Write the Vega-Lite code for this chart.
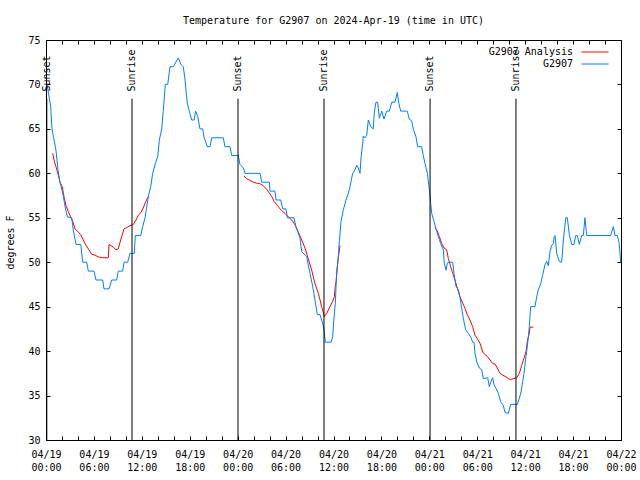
{
  "$schema": "https://vega.github.io/schema/vega-lite/v6.json",
  "width": 575,
  "height": 400,
  "autosize": {"type": "none"},
  "padding": {"left": 46, "top": 40, "right": 19, "bottom": 40},
  "background": "white",
  "title": {"text": "Temperature for G2907 on 2024-Apr-19 (time in UTC)", "fontSize": 10, "font": "DejaVu Sans Mono", "fontWeight": "normal", "color": "black", "offset": 9},
  "config": {
    "font": "DejaVu Sans Mono",
    "view": {"stroke": null},
    "axis": {"grid": false, "domainColor": "black", "tickColor": "black", "labelColor": "black", "titleColor": "black", "labelFontSize": 10, "titleFontSize": 10, "titleFontWeight": "normal", "labelFont": "DejaVu Sans Mono", "titleFont": "DejaVu Sans Mono", "tickSize": -4, "domainWidth": 1, "tickWidth": 1}
  },
  "datasets": {
    "temps": [
      {"series": "G2907 Analysis", "seg": 1, "hour": 0.84, "temp": 62.25},
      {"series": "G2907 Analysis", "seg": 1, "hour": 1.0, "temp": 61.5},
      {"series": "G2907 Analysis", "seg": 1, "hour": 1.25, "temp": 60.75},
      {"series": "G2907 Analysis", "seg": 1, "hour": 1.54, "temp": 59.8},
      {"series": "G2907 Analysis", "seg": 1, "hour": 1.75, "temp": 59},
      {"series": "G2907 Analysis", "seg": 1, "hour": 2.04, "temp": 58.5},
      {"series": "G2907 Analysis", "seg": 1, "hour": 2.25, "temp": 57.4},
      {"series": "G2907 Analysis", "seg": 1, "hour": 2.5, "temp": 56.4},
      {"series": "G2907 Analysis", "seg": 1, "hour": 2.79, "temp": 55.7},
      {"series": "G2907 Analysis", "seg": 1, "hour": 3.09, "temp": 55.1},
      {"series": "G2907 Analysis", "seg": 1, "hour": 3.34, "temp": 54.6},
      {"series": "G2907 Analysis", "seg": 1, "hour": 3.67, "temp": 53.7},
      {"series": "G2907 Analysis", "seg": 1, "hour": 4.04, "temp": 53.4},
      {"series": "G2907 Analysis", "seg": 1, "hour": 4.35, "temp": 53.1},
      {"series": "G2907 Analysis", "seg": 1, "hour": 4.67, "temp": 52.5},
      {"series": "G2907 Analysis", "seg": 1, "hour": 5.01, "temp": 51.9},
      {"series": "G2907 Analysis", "seg": 1, "hour": 5.38, "temp": 51.4},
      {"series": "G2907 Analysis", "seg": 1, "hour": 5.72, "temp": 50.9},
      {"series": "G2907 Analysis", "seg": 1, "hour": 6.14, "temp": 50.8},
      {"series": "G2907 Analysis", "seg": 1, "hour": 6.55, "temp": 50.6},
      {"series": "G2907 Analysis", "seg": 1, "hour": 7.1, "temp": 50.5},
      {"series": "G2907 Analysis", "seg": 1, "hour": 7.8, "temp": 50.5},
      {"series": "G2907 Analysis", "seg": 1, "hour": 7.89, "temp": 52},
      {"series": "G2907 Analysis", "seg": 1, "hour": 8.43, "temp": 51.7},
      {"series": "G2907 Analysis", "seg": 1, "hour": 8.73, "temp": 51.4},
      {"series": "G2907 Analysis", "seg": 1, "hour": 9.05, "temp": 51.5},
      {"series": "G2907 Analysis", "seg": 1, "hour": 9.35, "temp": 52.5},
      {"series": "G2907 Analysis", "seg": 1, "hour": 9.77, "temp": 53.75},
      {"series": "G2907 Analysis", "seg": 1, "hour": 10.1, "temp": 53.9},
      {"series": "G2907 Analysis", "seg": 1, "hour": 10.52, "temp": 54.1},
      {"series": "G2907 Analysis", "seg": 1, "hour": 10.93, "temp": 54.25},
      {"series": "G2907 Analysis", "seg": 1, "hour": 11.27, "temp": 54.75},
      {"series": "G2907 Analysis", "seg": 1, "hour": 11.56, "temp": 55.3},
      {"series": "G2907 Analysis", "seg": 1, "hour": 11.9, "temp": 55.6},
      {"series": "G2907 Analysis", "seg": 1, "hour": 12.18, "temp": 56.1},
      {"series": "G2907 Analysis", "seg": 1, "hour": 12.48, "temp": 56.8},
      {"series": "G2907 Analysis", "seg": 1, "hour": 12.81, "temp": 57.4},
      {"series": "G2907 Analysis", "seg": 2, "hour": 24.79, "temp": 59.7},
      {"series": "G2907 Analysis", "seg": 2, "hour": 25.13, "temp": 59.4},
      {"series": "G2907 Analysis", "seg": 2, "hour": 25.54, "temp": 59.2},
      {"series": "G2907 Analysis", "seg": 2, "hour": 25.96, "temp": 59.0},
      {"series": "G2907 Analysis", "seg": 2, "hour": 26.38, "temp": 58.9},
      {"series": "G2907 Analysis", "seg": 2, "hour": 26.88, "temp": 58.8},
      {"series": "G2907 Analysis", "seg": 2, "hour": 27.21, "temp": 58.6},
      {"series": "G2907 Analysis", "seg": 2, "hour": 27.64, "temp": 58.2},
      {"series": "G2907 Analysis", "seg": 2, "hour": 27.96, "temp": 57.8},
      {"series": "G2907 Analysis", "seg": 2, "hour": 28.26, "temp": 57.4},
      {"series": "G2907 Analysis", "seg": 2, "hour": 28.59, "temp": 56.8},
      {"series": "G2907 Analysis", "seg": 2, "hour": 28.96, "temp": 56.4},
      {"series": "G2907 Analysis", "seg": 2, "hour": 29.3, "temp": 56},
      {"series": "G2907 Analysis", "seg": 2, "hour": 29.64, "temp": 55.7},
      {"series": "G2907 Analysis", "seg": 2, "hour": 29.93, "temp": 55.5},
      {"series": "G2907 Analysis", "seg": 2, "hour": 30.34, "temp": 55.1},
      {"series": "G2907 Analysis", "seg": 2, "hour": 30.77, "temp": 54.75},
      {"series": "G2907 Analysis", "seg": 2, "hour": 31.18, "temp": 54.2},
      {"series": "G2907 Analysis", "seg": 2, "hour": 31.59, "temp": 53.4},
      {"series": "G2907 Analysis", "seg": 2, "hour": 32.02, "temp": 52.5},
      {"series": "G2907 Analysis", "seg": 2, "hour": 32.43, "temp": 51.6},
      {"series": "G2907 Analysis", "seg": 2, "hour": 32.84, "temp": 50.4},
      {"series": "G2907 Analysis", "seg": 2, "hour": 33.27, "temp": 49.1},
      {"series": "G2907 Analysis", "seg": 2, "hour": 33.68, "temp": 47.6},
      {"series": "G2907 Analysis", "seg": 2, "hour": 34.1, "temp": 46.5},
      {"series": "G2907 Analysis", "seg": 2, "hour": 34.22, "temp": 46.1},
      {"series": "G2907 Analysis", "seg": 2, "hour": 34.52, "temp": 45},
      {"series": "G2907 Analysis", "seg": 2, "hour": 34.85, "temp": 43.9},
      {"series": "G2907 Analysis", "seg": 2, "hour": 35.15, "temp": 44.25},
      {"series": "G2907 Analysis", "seg": 2, "hour": 35.56, "temp": 45},
      {"series": "G2907 Analysis", "seg": 2, "hour": 35.9, "temp": 45.6},
      {"series": "G2907 Analysis", "seg": 2, "hour": 36.1, "temp": 46.1},
      {"series": "G2907 Analysis", "seg": 2, "hour": 36.23, "temp": 47.4},
      {"series": "G2907 Analysis", "seg": 2, "hour": 36.31, "temp": 47.75},
      {"series": "G2907 Analysis", "seg": 2, "hour": 36.53, "temp": 49.9},
      {"series": "G2907 Analysis", "seg": 2, "hour": 36.65, "temp": 50.8},
      {"series": "G2907 Analysis", "seg": 2, "hour": 36.81, "temp": 51.9},
      {"series": "G2907 Analysis", "seg": 3, "hour": 48.71, "temp": 53.9},
      {"series": "G2907 Analysis", "seg": 3, "hour": 49.0, "temp": 53.5},
      {"series": "G2907 Analysis", "seg": 3, "hour": 49.25, "temp": 52.9},
      {"series": "G2907 Analysis", "seg": 3, "hour": 49.55, "temp": 52.1},
      {"series": "G2907 Analysis", "seg": 3, "hour": 49.84, "temp": 51.6},
      {"series": "G2907 Analysis", "seg": 3, "hour": 50.17, "temp": 51.4},
      {"series": "G2907 Analysis", "seg": 3, "hour": 50.38, "temp": 50.4},
      {"series": "G2907 Analysis", "seg": 3, "hour": 50.68, "temp": 49.5},
      {"series": "G2907 Analysis", "seg": 3, "hour": 50.93, "temp": 48.75},
      {"series": "G2907 Analysis", "seg": 3, "hour": 51.21, "temp": 48},
      {"series": "G2907 Analysis", "seg": 3, "hour": 51.5, "temp": 47.1},
      {"series": "G2907 Analysis", "seg": 3, "hour": 51.84, "temp": 46.1},
      {"series": "G2907 Analysis", "seg": 3, "hour": 52.18, "temp": 45.4},
      {"series": "G2907 Analysis", "seg": 3, "hour": 52.47, "temp": 44.8},
      {"series": "G2907 Analysis", "seg": 3, "hour": 52.75, "temp": 44.1},
      {"series": "G2907 Analysis", "seg": 3, "hour": 53.09, "temp": 43.5},
      {"series": "G2907 Analysis", "seg": 3, "hour": 53.43, "temp": 42.75},
      {"series": "G2907 Analysis", "seg": 3, "hour": 53.72, "temp": 41.8},
      {"series": "G2907 Analysis", "seg": 3, "hour": 54.01, "temp": 41.4},
      {"series": "G2907 Analysis", "seg": 3, "hour": 54.34, "temp": 40.9},
      {"series": "G2907 Analysis", "seg": 3, "hour": 54.68, "temp": 39.9},
      {"series": "G2907 Analysis", "seg": 3, "hour": 54.97, "temp": 39.6},
      {"series": "G2907 Analysis", "seg": 3, "hour": 55.26, "temp": 39.4},
      {"series": "G2907 Analysis", "seg": 3, "hour": 55.6, "temp": 39},
      {"series": "G2907 Analysis", "seg": 3, "hour": 55.93, "temp": 38.6},
      {"series": "G2907 Analysis", "seg": 3, "hour": 56.22, "temp": 38.55},
      {"series": "G2907 Analysis", "seg": 3, "hour": 56.51, "temp": 38.1},
      {"series": "G2907 Analysis", "seg": 3, "hour": 56.85, "temp": 37.5},
      {"series": "G2907 Analysis", "seg": 3, "hour": 57.19, "temp": 37.3},
      {"series": "G2907 Analysis", "seg": 3, "hour": 57.6, "temp": 37.1},
      {"series": "G2907 Analysis", "seg": 3, "hour": 57.89, "temp": 36.9},
      {"series": "G2907 Analysis", "seg": 3, "hour": 58.19, "temp": 36.8},
      {"series": "G2907 Analysis", "seg": 3, "hour": 58.51, "temp": 36.9},
      {"series": "G2907 Analysis", "seg": 3, "hour": 58.94, "temp": 37},
      {"series": "G2907 Analysis", "seg": 3, "hour": 59.27, "temp": 37.5},
      {"series": "G2907 Analysis", "seg": 3, "hour": 59.57, "temp": 38.4},
      {"series": "G2907 Analysis", "seg": 3, "hour": 59.85, "temp": 39.2},
      {"series": "G2907 Analysis", "seg": 3, "hour": 60.1, "temp": 39.9},
      {"series": "G2907 Analysis", "seg": 3, "hour": 60.27, "temp": 41.1},
      {"series": "G2907 Analysis", "seg": 3, "hour": 60.52, "temp": 42},
      {"series": "G2907 Analysis", "seg": 3, "hour": 60.61, "temp": 42.7},
      {"series": "G2907 Analysis", "seg": 3, "hour": 61.02, "temp": 42.7},
      {"series": "G2907", "seg": 0, "hour": 0.13, "temp": 70},
      {"series": "G2907", "seg": 0, "hour": 0.59, "temp": 67.5},
      {"series": "G2907", "seg": 0, "hour": 0.75, "temp": 65},
      {"series": "G2907", "seg": 0, "hour": 1.25, "temp": 62.6},
      {"series": "G2907", "seg": 0, "hour": 1.5, "temp": 60.4},
      {"series": "G2907", "seg": 0, "hour": 1.75, "temp": 59},
      {"series": "G2907", "seg": 0, "hour": 2.09, "temp": 57.8},
      {"series": "G2907", "seg": 0, "hour": 2.38, "temp": 56.3},
      {"series": "G2907", "seg": 0, "hour": 2.67, "temp": 55.1},
      {"series": "G2907", "seg": 0, "hour": 3.22, "temp": 55},
      {"series": "G2907", "seg": 0, "hour": 3.42, "temp": 53.6},
      {"series": "G2907", "seg": 0, "hour": 3.76, "temp": 52},
      {"series": "G2907", "seg": 0, "hour": 4.35, "temp": 52},
      {"series": "G2907", "seg": 0, "hour": 4.6, "temp": 50},
      {"series": "G2907", "seg": 0, "hour": 5.1, "temp": 50},
      {"series": "G2907", "seg": 0, "hour": 5.3, "temp": 49},
      {"series": "G2907", "seg": 0, "hour": 6.01, "temp": 49},
      {"series": "G2907", "seg": 0, "hour": 6.26, "temp": 48},
      {"series": "G2907", "seg": 0, "hour": 7.1, "temp": 48},
      {"series": "G2907", "seg": 0, "hour": 7.26, "temp": 47},
      {"series": "G2907", "seg": 0, "hour": 7.89, "temp": 47},
      {"series": "G2907", "seg": 0, "hour": 8.23, "temp": 48},
      {"series": "G2907", "seg": 0, "hour": 8.85, "temp": 48},
      {"series": "G2907", "seg": 0, "hour": 9.05, "temp": 49},
      {"series": "G2907", "seg": 0, "hour": 9.6, "temp": 49},
      {"series": "G2907", "seg": 0, "hour": 9.77, "temp": 50},
      {"series": "G2907", "seg": 0, "hour": 10.23, "temp": 50},
      {"series": "G2907", "seg": 0, "hour": 10.52, "temp": 51},
      {"series": "G2907", "seg": 0, "hour": 11.06, "temp": 51},
      {"series": "G2907", "seg": 0, "hour": 11.18, "temp": 53},
      {"series": "G2907", "seg": 0, "hour": 11.86, "temp": 53},
      {"series": "G2907", "seg": 0, "hour": 12.11, "temp": 54},
      {"series": "G2907", "seg": 0, "hour": 12.4, "temp": 55},
      {"series": "G2907", "seg": 0, "hour": 12.81, "temp": 57.4},
      {"series": "G2907", "seg": 0, "hour": 13.11, "temp": 58.5},
      {"series": "G2907", "seg": 0, "hour": 13.36, "temp": 60},
      {"series": "G2907", "seg": 0, "hour": 13.69, "temp": 61.1},
      {"series": "G2907", "seg": 0, "hour": 13.99, "temp": 61.9},
      {"series": "G2907", "seg": 0, "hour": 14.19, "temp": 63.75},
      {"series": "G2907", "seg": 0, "hour": 14.49, "temp": 65},
      {"series": "G2907", "seg": 0, "hour": 14.69, "temp": 67.1},
      {"series": "G2907", "seg": 0, "hour": 14.94, "temp": 70},
      {"series": "G2907", "seg": 0, "hour": 15.24, "temp": 70},
      {"series": "G2907", "seg": 0, "hour": 15.53, "temp": 72},
      {"series": "G2907", "seg": 0, "hour": 15.94, "temp": 72},
      {"series": "G2907", "seg": 0, "hour": 16.57, "temp": 73},
      {"series": "G2907", "seg": 0, "hour": 16.87, "temp": 72.3},
      {"series": "G2907", "seg": 0, "hour": 17.19, "temp": 72},
      {"series": "G2907", "seg": 0, "hour": 17.41, "temp": 70.5},
      {"series": "G2907", "seg": 0, "hour": 17.69, "temp": 67.9},
      {"series": "G2907", "seg": 0, "hour": 17.94, "temp": 67},
      {"series": "G2907", "seg": 0, "hour": 18.24, "temp": 66},
      {"series": "G2907", "seg": 0, "hour": 18.53, "temp": 66},
      {"series": "G2907", "seg": 0, "hour": 18.74, "temp": 67},
      {"series": "G2907", "seg": 0, "hour": 19.0, "temp": 66.4},
      {"series": "G2907", "seg": 0, "hour": 19.28, "temp": 65},
      {"series": "G2907", "seg": 0, "hour": 19.62, "temp": 65},
      {"series": "G2907", "seg": 0, "hour": 19.78, "temp": 64.1},
      {"series": "G2907", "seg": 0, "hour": 20.2, "temp": 63},
      {"series": "G2907", "seg": 0, "hour": 20.54, "temp": 63},
      {"series": "G2907", "seg": 0, "hour": 20.75, "temp": 64},
      {"series": "G2907", "seg": 0, "hour": 22.2, "temp": 64},
      {"series": "G2907", "seg": 0, "hour": 22.41, "temp": 63},
      {"series": "G2907", "seg": 0, "hour": 23.04, "temp": 63},
      {"series": "G2907", "seg": 0, "hour": 23.25, "temp": 62},
      {"series": "G2907", "seg": 0, "hour": 24.08, "temp": 62},
      {"series": "G2907", "seg": 0, "hour": 24.29, "temp": 61},
      {"series": "G2907", "seg": 0, "hour": 24.71, "temp": 60.6},
      {"series": "G2907", "seg": 0, "hour": 24.92, "temp": 60},
      {"series": "G2907", "seg": 0, "hour": 26.8, "temp": 60},
      {"series": "G2907", "seg": 0, "hour": 27.01, "temp": 59},
      {"series": "G2907", "seg": 0, "hour": 27.96, "temp": 59},
      {"series": "G2907", "seg": 0, "hour": 28.05, "temp": 58},
      {"series": "G2907", "seg": 0, "hour": 28.67, "temp": 58},
      {"series": "G2907", "seg": 0, "hour": 28.8, "temp": 57},
      {"series": "G2907", "seg": 0, "hour": 29.39, "temp": 57},
      {"series": "G2907", "seg": 0, "hour": 29.64, "temp": 56},
      {"series": "G2907", "seg": 0, "hour": 30.05, "temp": 56},
      {"series": "G2907", "seg": 0, "hour": 30.22, "temp": 55},
      {"series": "G2907", "seg": 0, "hour": 31.05, "temp": 55},
      {"series": "G2907", "seg": 0, "hour": 31.3, "temp": 54},
      {"series": "G2907", "seg": 0, "hour": 31.81, "temp": 52.7},
      {"series": "G2907", "seg": 0, "hour": 32.02, "temp": 51.2},
      {"series": "G2907", "seg": 0, "hour": 32.64, "temp": 50.6},
      {"series": "G2907", "seg": 0, "hour": 33.06, "temp": 48.75},
      {"series": "G2907", "seg": 0, "hour": 33.4, "temp": 47.25},
      {"series": "G2907", "seg": 0, "hour": 33.68, "temp": 45.75},
      {"series": "G2907", "seg": 0, "hour": 33.97, "temp": 44.1},
      {"series": "G2907", "seg": 0, "hour": 34.31, "temp": 44.1},
      {"series": "G2907", "seg": 0, "hour": 34.65, "temp": 43.1},
      {"series": "G2907", "seg": 0, "hour": 34.85, "temp": 42.2},
      {"series": "G2907", "seg": 0, "hour": 34.97, "temp": 41},
      {"series": "G2907", "seg": 0, "hour": 35.69, "temp": 41},
      {"series": "G2907", "seg": 0, "hour": 35.9, "temp": 41.6},
      {"series": "G2907", "seg": 0, "hour": 36.06, "temp": 43.7},
      {"series": "G2907", "seg": 0, "hour": 36.23, "temp": 45.4},
      {"series": "G2907", "seg": 0, "hour": 36.4, "temp": 48.9},
      {"series": "G2907", "seg": 0, "hour": 36.6, "temp": 50.6},
      {"series": "G2907", "seg": 0, "hour": 36.73, "temp": 52.3},
      {"series": "G2907", "seg": 0, "hour": 36.94, "temp": 54.6},
      {"series": "G2907", "seg": 0, "hour": 37.23, "temp": 55.9},
      {"series": "G2907", "seg": 0, "hour": 37.57, "temp": 57},
      {"series": "G2907", "seg": 0, "hour": 37.85, "temp": 57.75},
      {"series": "G2907", "seg": 0, "hour": 38.07, "temp": 58.5},
      {"series": "G2907", "seg": 0, "hour": 38.4, "temp": 60},
      {"series": "G2907", "seg": 0, "hour": 38.69, "temp": 60.4},
      {"series": "G2907", "seg": 0, "hour": 38.91, "temp": 60.9},
      {"series": "G2907", "seg": 0, "hour": 39.11, "temp": 60.6},
      {"series": "G2907", "seg": 0, "hour": 39.32, "temp": 60},
      {"series": "G2907", "seg": 0, "hour": 39.44, "temp": 61.7},
      {"series": "G2907", "seg": 0, "hour": 39.66, "temp": 63.4},
      {"series": "G2907", "seg": 0, "hour": 39.73, "temp": 64.2},
      {"series": "G2907", "seg": 0, "hour": 39.94, "temp": 64},
      {"series": "G2907", "seg": 0, "hour": 40.16, "temp": 64.3},
      {"series": "G2907", "seg": 0, "hour": 40.36, "temp": 66},
      {"series": "G2907", "seg": 0, "hour": 40.66, "temp": 65.25},
      {"series": "G2907", "seg": 0, "hour": 40.98, "temp": 65},
      {"series": "G2907", "seg": 0, "hour": 41.11, "temp": 66.9},
      {"series": "G2907", "seg": 0, "hour": 41.32, "temp": 68},
      {"series": "G2907", "seg": 0, "hour": 41.53, "temp": 68},
      {"series": "G2907", "seg": 0, "hour": 41.74, "temp": 66.2},
      {"series": "G2907", "seg": 0, "hour": 42.04, "temp": 67},
      {"series": "G2907", "seg": 0, "hour": 42.32, "temp": 66.1},
      {"series": "G2907", "seg": 0, "hour": 42.66, "temp": 67},
      {"series": "G2907", "seg": 0, "hour": 42.99, "temp": 67},
      {"series": "G2907", "seg": 0, "hour": 43.29, "temp": 68},
      {"series": "G2907", "seg": 0, "hour": 43.7, "temp": 68},
      {"series": "G2907", "seg": 0, "hour": 43.99, "temp": 69.1},
      {"series": "G2907", "seg": 0, "hour": 44.16, "temp": 68},
      {"series": "G2907", "seg": 0, "hour": 44.41, "temp": 67},
      {"series": "G2907", "seg": 0, "hour": 45.24, "temp": 67},
      {"series": "G2907", "seg": 0, "hour": 45.49, "temp": 66.1},
      {"series": "G2907", "seg": 0, "hour": 45.79, "temp": 65.9},
      {"series": "G2907", "seg": 0, "hour": 45.99, "temp": 65},
      {"series": "G2907", "seg": 0, "hour": 46.33, "temp": 64.1},
      {"series": "G2907", "seg": 0, "hour": 46.54, "temp": 63},
      {"series": "G2907", "seg": 0, "hour": 47.04, "temp": 63},
      {"series": "G2907", "seg": 0, "hour": 47.24, "temp": 62},
      {"series": "G2907", "seg": 0, "hour": 47.46, "temp": 61.1},
      {"series": "G2907", "seg": 0, "hour": 47.75, "temp": 60},
      {"series": "G2907", "seg": 0, "hour": 47.96, "temp": 58.5},
      {"series": "G2907", "seg": 0, "hour": 48.08, "temp": 57.6},
      {"series": "G2907", "seg": 0, "hour": 48.17, "temp": 56.6},
      {"series": "G2907", "seg": 0, "hour": 48.3, "temp": 55.5},
      {"series": "G2907", "seg": 0, "hour": 48.58, "temp": 54.6},
      {"series": "G2907", "seg": 0, "hour": 48.83, "temp": 53.8},
      {"series": "G2907", "seg": 0, "hour": 49.12, "temp": 52.9},
      {"series": "G2907", "seg": 0, "hour": 49.42, "temp": 52.1},
      {"series": "G2907", "seg": 0, "hour": 49.75, "temp": 51.4},
      {"series": "G2907", "seg": 0, "hour": 49.87, "temp": 49.9},
      {"series": "G2907", "seg": 0, "hour": 50.09, "temp": 49.1},
      {"series": "G2907", "seg": 0, "hour": 50.25, "temp": 49.9},
      {"series": "G2907", "seg": 0, "hour": 50.5, "temp": 50},
      {"series": "G2907", "seg": 0, "hour": 50.93, "temp": 50},
      {"series": "G2907", "seg": 0, "hour": 51.09, "temp": 48.75},
      {"series": "G2907", "seg": 0, "hour": 51.34, "temp": 47.25},
      {"series": "G2907", "seg": 0, "hour": 51.63, "temp": 46.9},
      {"series": "G2907", "seg": 0, "hour": 51.84, "temp": 46.1},
      {"series": "G2907", "seg": 0, "hour": 52.05, "temp": 44.8},
      {"series": "G2907", "seg": 0, "hour": 52.25, "temp": 43.7},
      {"series": "G2907", "seg": 0, "hour": 52.55, "temp": 42.4},
      {"series": "G2907", "seg": 0, "hour": 52.88, "temp": 42},
      {"series": "G2907", "seg": 0, "hour": 53.18, "temp": 41.6},
      {"series": "G2907", "seg": 0, "hour": 53.43, "temp": 41},
      {"series": "G2907", "seg": 0, "hour": 53.59, "temp": 41},
      {"series": "G2907", "seg": 0, "hour": 53.72, "temp": 39.75},
      {"series": "G2907", "seg": 0, "hour": 53.93, "temp": 38.8},
      {"series": "G2907", "seg": 0, "hour": 54.26, "temp": 38.1},
      {"series": "G2907", "seg": 0, "hour": 54.56, "temp": 37.9},
      {"series": "G2907", "seg": 0, "hour": 54.76, "temp": 36.9},
      {"series": "G2907", "seg": 0, "hour": 55.31, "temp": 37},
      {"series": "G2907", "seg": 0, "hour": 55.51, "temp": 36},
      {"series": "G2907", "seg": 0, "hour": 55.68, "temp": 36.5},
      {"series": "G2907", "seg": 0, "hour": 55.93, "temp": 37},
      {"series": "G2907", "seg": 0, "hour": 56.1, "temp": 36.2},
      {"series": "G2907", "seg": 0, "hour": 56.35, "temp": 35.8},
      {"series": "G2907", "seg": 0, "hour": 56.64, "temp": 35.25},
      {"series": "G2907", "seg": 0, "hour": 56.94, "temp": 34.3},
      {"series": "G2907", "seg": 0, "hour": 57.26, "temp": 33.9},
      {"series": "G2907", "seg": 0, "hour": 57.47, "temp": 33.1},
      {"series": "G2907", "seg": 0, "hour": 57.89, "temp": 33},
      {"series": "G2907", "seg": 0, "hour": 58.19, "temp": 34},
      {"series": "G2907", "seg": 0, "hour": 59.02, "temp": 34},
      {"series": "G2907", "seg": 0, "hour": 59.27, "temp": 34.7},
      {"series": "G2907", "seg": 0, "hour": 59.48, "temp": 35.4},
      {"series": "G2907", "seg": 0, "hour": 59.69, "temp": 36.6},
      {"series": "G2907", "seg": 0, "hour": 59.85, "temp": 37.5},
      {"series": "G2907", "seg": 0, "hour": 60.1, "temp": 39.4},
      {"series": "G2907", "seg": 0, "hour": 60.27, "temp": 40.5},
      {"series": "G2907", "seg": 0, "hour": 60.52, "temp": 42.75},
      {"series": "G2907", "seg": 0, "hour": 60.69, "temp": 45},
      {"series": "G2907", "seg": 0, "hour": 61.23, "temp": 45},
      {"series": "G2907", "seg": 0, "hour": 61.44, "temp": 46.1},
      {"series": "G2907", "seg": 0, "hour": 61.65, "temp": 46.9},
      {"series": "G2907", "seg": 0, "hour": 61.95, "temp": 47.6},
      {"series": "G2907", "seg": 0, "hour": 62.2, "temp": 48.6},
      {"series": "G2907", "seg": 0, "hour": 62.48, "temp": 49.7},
      {"series": "G2907", "seg": 0, "hour": 62.7, "temp": 50.1},
      {"series": "G2907", "seg": 0, "hour": 62.9, "temp": 49.6},
      {"series": "G2907", "seg": 0, "hour": 63.11, "temp": 51.2},
      {"series": "G2907", "seg": 0, "hour": 63.32, "temp": 51.9},
      {"series": "G2907", "seg": 0, "hour": 63.52, "temp": 52.1},
      {"series": "G2907", "seg": 0, "hour": 63.65, "temp": 52.9},
      {"series": "G2907", "seg": 0, "hour": 63.74, "temp": 53},
      {"series": "G2907", "seg": 0, "hour": 63.95, "temp": 51},
      {"series": "G2907", "seg": 0, "hour": 64.27, "temp": 50.1},
      {"series": "G2907", "seg": 0, "hour": 64.57, "temp": 50},
      {"series": "G2907", "seg": 0, "hour": 64.78, "temp": 52.5},
      {"series": "G2907", "seg": 0, "hour": 64.99, "temp": 54.2},
      {"series": "G2907", "seg": 0, "hour": 65.08, "temp": 55},
      {"series": "G2907", "seg": 0, "hour": 65.28, "temp": 55},
      {"series": "G2907", "seg": 0, "hour": 65.53, "temp": 53.1},
      {"series": "G2907", "seg": 0, "hour": 65.83, "temp": 52},
      {"series": "G2907", "seg": 0, "hour": 66.11, "temp": 52},
      {"series": "G2907", "seg": 0, "hour": 66.33, "temp": 53},
      {"series": "G2907", "seg": 0, "hour": 66.53, "temp": 53},
      {"series": "G2907", "seg": 0, "hour": 66.78, "temp": 52},
      {"series": "G2907", "seg": 0, "hour": 67.08, "temp": 53},
      {"series": "G2907", "seg": 0, "hour": 67.28, "temp": 53},
      {"series": "G2907", "seg": 0, "hour": 67.49, "temp": 55},
      {"series": "G2907", "seg": 0, "hour": 67.7, "temp": 53},
      {"series": "G2907", "seg": 0, "hour": 70.71, "temp": 53},
      {"series": "G2907", "seg": 0, "hour": 71.04, "temp": 54},
      {"series": "G2907", "seg": 0, "hour": 71.25, "temp": 53},
      {"series": "G2907", "seg": 0, "hour": 71.54, "temp": 53},
      {"series": "G2907", "seg": 0, "hour": 71.75, "temp": 52.25},
      {"series": "G2907", "seg": 0, "hour": 71.88, "temp": 51},
      {"series": "G2907", "seg": 0, "hour": 71.96, "temp": 50}
    ],
    "sun": [
      {"event": "Sunset", "hour": 0.1},
      {"event": "Sunrise", "hour": 10.77},
      {"event": "Sunset", "hour": 24.04},
      {"event": "Sunrise", "hour": 34.81},
      {"event": "Sunset", "hour": 48.09},
      {"event": "Sunrise", "hour": 58.85}
    ]
  },
  "layer": [
    {
      "data": {"name": "temps"},
      "mark": {"type": "line", "strokeWidth": 1, "clip": true},
      "encoding": {
        "x": {"field": "hour", "type": "quantitative", "scale": {"domain": [0, 72], "nice": false, "zero": false},
          "axis": {"orient": "bottom", "title": null, "values": [0,2,4,6,8,10,12,14,16,18,20,22,24,26,28,30,32,34,36,38,40,42,44,46,48,50,52,54,56,58,60,62,64,66,68,70,72], "labelExpr": "datum.value % 6 == 0 ? ['04/' + (19 + floor(datum.value / 24)), ((datum.value % 24) < 10 ? '0' : '') + (datum.value % 24) + ':00'] : ''", "labelPadding": 13, "labelLineHeight": 13, "labelFlush": false, "labelOverlap": false}},
        "y": {"field": "temp", "type": "quantitative", "scale": {"domain": [30, 75], "nice": false, "zero": false},
          "axis": {"orient": "left", "title": "degrees F", "values": [30,35,40,45,50,55,60,65,70,75], "labelPadding": 10, "titleX": -31, "titleY": 202, "titleAngle": 270, "titleBaseline": "bottom", "labelFlush": false}},
        "color": {"field": "series", "type": "nominal", "scale": {"domain": ["G2907 Analysis", "G2907"], "range": ["#ff0000", "#0080ff"]},
          "legend": {"orient": "none", "legendX": 544, "legendY": 7, "title": null, "symbolType": "M-3,0H3", "symbolSize": 81, "symbolStrokeWidth": 1, "labelAlign": "right", "labelOffset": -27, "labelFontSize": 10, "labelFont": "DejaVu Sans Mono", "labelColor": "black", "padding": 0, "rowPadding": 2}},
        "detail": {"field": "seg", "type": "nominal"}
      }
    },
    {
      "data": {"name": "sun"},
      "mark": {"type": "rule", "color": "black", "strokeWidth": 1},
      "encoding": {
        "x": {"field": "hour", "type": "quantitative", "axis": {"orient": "top", "title": null, "labels": false, "values": [0,2,4,6,8,10,12,14,16,18,20,22,24,26,28,30,32,34,36,38,40,42,44,46,48,50,52,54,56,58,60,62,64,66,68,70,72]}},
        "y": {"datum": 30, "type": "quantitative", "axis": {"orient": "right", "title": null, "labels": false, "values": [30,35,40,45,50,55,60,65,70,75]}},
        "y2": {"datum": 68.4}
      }
    },
    {
      "data": {"name": "sun"},
      "mark": {"type": "text", "angle": 270, "align": "left", "baseline": "middle", "fontSize": 10, "font": "DejaVu Sans Mono", "color": "black"},
      "encoding": {
        "x": {"field": "hour", "type": "quantitative", "axis": null},
        "y": {"datum": 69.2, "type": "quantitative", "axis": null},
        "text": {"field": "event", "type": "nominal"}
      }
    }
  ],
  "resolve": {"axis": {"x": "independent", "y": "independent"}}
}
